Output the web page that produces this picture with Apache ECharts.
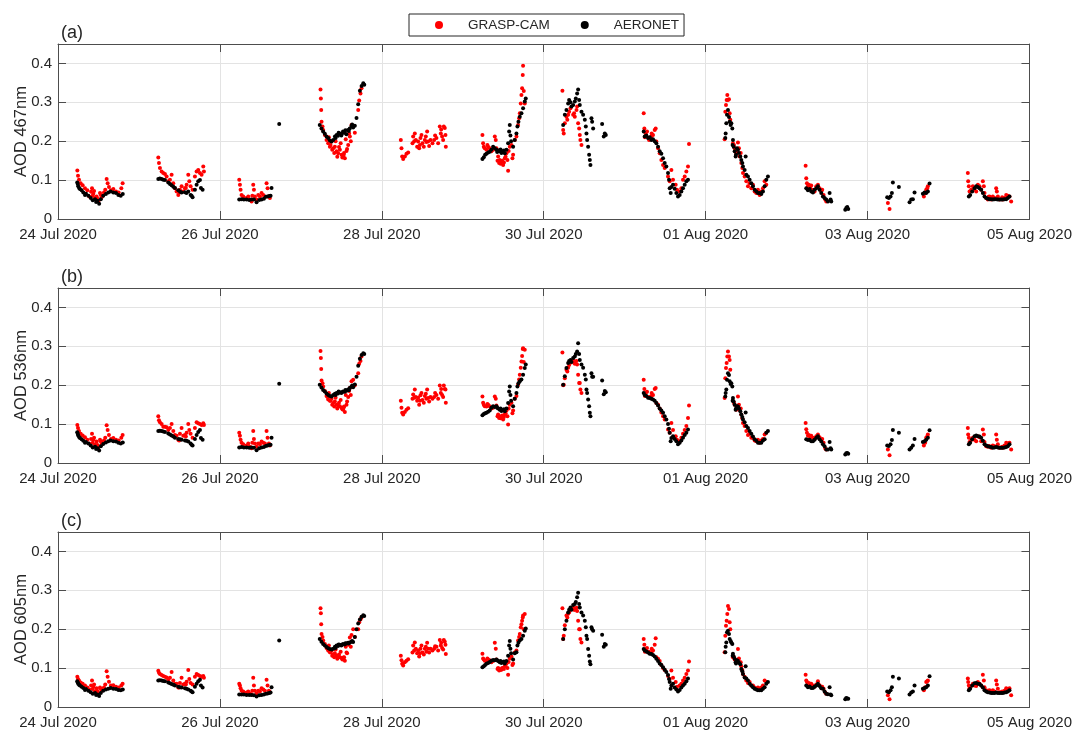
<!DOCTYPE html>
<html>
<head>
<meta charset="utf-8">
<script src="https://cdn.jsdelivr.net/npm/echarts@6.0.0/dist/echarts.min.js"></script>
<style>
  html, body { margin: 0; padding: 0; background: #fff; }
  #chart { width: 1075px; height: 730px; }
</style>
</head>
<body>
<div id="chart"></div>
<script>
// time = hours since 24 Jul 2020 00:00, one line per observing day (last line: extra points)
var aeroHours = [
  5.7, 5.85, 6.0, 6.25, 6.5, 7.0, 7.5, 8.3, 9.0, 9.7, 10.3, 11.0, 11.7, 12.2, 12.7, 13.4, 14.2, 14.9, 15.6, 16.4, 17.2, 17.9, 18.6, 19.2,
  29.73, 30.2, 30.72, 31.2, 31.71, 32.69, 33.2, 33.68, 34.2, 34.67, 35.66, 36.2, 36.64, 37.63, 38.1, 38.62, 39.31, 39.6, 39.9, 40.59, 41.09, 41.58, 42.08, 42.37, 42.87,
  53.73, 54.42, 55.11, 55.9, 56.7, 57.39, 58.08, 58.87, 59.66, 60.35, 61.04, 61.63, 62.13, 62.62, 63.02, 63.31, 65.58,
  77.6, 78.1, 78.6, 79.1, 79.6, 80.1, 80.6, 81.1, 81.6, 82.1, 82.6, 83.0, 83.5, 84.0, 84.5, 85.0, 85.5, 86.0, 86.5, 87.0, 87.5, 88.0, 88.5, 89.0, 89.5, 90.0, 90.5, 90.8,
  125.83, 126.23, 126.62, 127.02, 127.51, 128.0, 128.5, 128.99, 129.49, 129.98, 130.48, 130.97, 131.46, 131.96, 132.45, 132.95, 133.44, 133.74, 133.93, 134.13, 134.33, 134.92, 135.41, 135.91, 136.2, 136.5, 136.9, 137.39, 137.88, 138.38, 138.67,
  149.76, 150.25, 150.74, 151.24, 151.53, 151.93, 152.22, 152.72, 153.21, 153.51, 153.9, 154.2, 154.5, 154.69, 155.19, 155.68, 156.18, 156.47, 156.67, 156.87, 157.16, 157.46, 157.66, 157.85, 158.15, 158.35, 158.65, 161.31, 161.8, 162.1, 162.4,
  173.64, 173.93, 174.43, 174.92, 175.42, 175.91, 176.4, 176.9, 177.39, 177.89, 178.38, 178.87, 179.37, 179.86, 180.35, 180.85, 181.14, 181.34, 181.64, 181.84, 182.33, 182.82, 183.32, 183.81, 184.3, 184.8, 185.29, 185.79, 186.28, 186.77,
  197.83, 197.93, 198.13, 198.33, 198.62, 198.92, 199.12, 199.41, 199.61, 199.91, 200.1, 200.3, 200.6, 200.89, 201.29, 201.58, 201.88, 202.28, 202.57, 202.87, 203.07, 203.56, 203.86, 204.05, 204.55, 205.04, 205.54, 206.03, 206.52, 207.02, 207.51, 208.0, 208.5, 208.99, 209.49, 209.98, 210.47,
  221.83, 222.33, 222.82, 223.31, 223.81, 224.3, 224.8, 225.29, 225.78, 226.28, 226.77, 227.26, 227.76, 228.25, 228.75, 229.04, 229.24, 233.39, 233.69, 233.98, 234.28,
  245.83, 246.33, 246.82, 247.22, 247.51, 249.29, 252.45, 252.95, 253.44, 253.93, 256.4, 256.9, 257.39, 257.88, 258.38,
  270.03, 270.43, 271.02, 271.71, 272.21, 272.7, 273.19, 273.69, 274.18, 274.67, 275.17, 275.66, 276.16, 276.65, 277.14, 277.64, 278.13, 278.63, 279.12, 279.61, 280.11, 280.6, 281.1, 281.59, 282.08,
  82.3, 83.2, 84.2, 85.2, 86.2, 87.2, 130.2, 131.2, 132.2, 8.0, 11.3, 200.0, 201.0
];
var aero467 = [
  .094, .090, .084, .080, .077, .074, .068, .065, .060, .054, .048, .051, .047, .039, .051, .060, .064, .068, .071, .068, .067, .062, .060, .064,
  .103, .104, .103, .101, .100, .094, .090, .087, .083, .080, .074, .070, .068, .069, .067, .071, .062, .060, .056, .075, .088, .097, .100, .080, .075,
  .050, .051, .050, .050, .049, .050, .050, .043, .049, .050, .052, .057, .058, .059, .060, .080, .244,
  .242, .233, .225, .219, .212, .208, .202, .199, .203, .212, .216, .214, .220, .215, .225, .222, .218, .229, .233, .239, .235, .240, .260, .295, .330, .342, .349, .345,
  .154, .159, .165, .168, .171, .173, .178, .186, .182, .178, .176, .174, .170, .174, .169, .178, .195, .225, .242, .215, .200, .186, .203, .220, .238, .250, .263, .272, .285, .302, .310,
  .242, .268, .280, .297, .306, .300, .289, .293, .302, .310, .323, .333, .306, .293, .276, .268, .255, .238, .220, .203, .186, .165, .152, .139, .259, .250, .233, .244, .212, .220, .216,
  .225, .212, .215, .208, .210, .203, .205, .200, .195, .186, .174, .168, .156, .144, .135, .118, .101, .079, .067, .082, .088, .078, .067, .058, .062, .071, .079, .088, .097, .101,
  .208, .220, .246, .268, .280, .262, .250, .242, .246, .233, .203, .186, .174, .161, .182, .178, .170, .161, .152, .144, .135, .126, .161, .114, .109, .101, .092, .084, .075, .071, .067, .067, .064, .071, .084, .101, .109,
  .079, .074, .077, .071, .068, .075, .079, .084, .075, .067, .058, .054, .050, .045, .067, .050, .045, .024, .028, .031, .026,
  .056, .054, .058, .067, .094, .082, .043, .050, .051, .068, .065, .068, .067, .071, .091,
  .058, .062, .071, .079, .084, .082, .079, .075, .067, .058, .054, .052, .051, .051, .050, .051, .051, .050, .050, .050, .050, .051, .051, .054, .058,
  .208, .222, .220, .228, .226, .243, .172, .179, .176, .062, .044, .190, .165
];
var aero536 = [
  .079, .075, .071, .067, .064, .061, .057, .054, .050, .045, .040, .042, .038, .032, .043, .049, .053, .056, .058, .056, .055, .052, .050, .053,
  .082, .083, .082, .081, .080, .076, .073, .071, .068, .065, .062, .061, .060, .058, .057, .055, .050, .047, .045, .062, .072, .080, .085, .064, .060,
  .040, .041, .040, .040, .039, .040, .039, .033, .038, .040, .041, .044, .045, .046, .047, .065, .204,
  .201, .194, .188, .184, .179, .175, .172, .171, .175, .178, .180, .179, .182, .180, .184, .183, .186, .189, .193, .196, .195, .202, .222, .250, .268, .278, .282, .280,
  .123, .126, .128, .129, .132, .135, .142, .146, .144, .146, .140, .137, .134, .136, .133, .140, .154, .184, .197, .175, .160, .146, .165, .180, .197, .205, .210, .215, .227, .244, .253,
  .201, .223, .244, .257, .262, .265, .260, .270, .274, .280, .287, .308, .280, .265, .253, .245, .227, .215, .189, .180, .163, .146, .129, .120, .231, .222, .222, .212, .177, .185, .182,
  .180, .175, .172, .168, .167, .165, .163, .160, .154, .148, .140, .135, .129, .120, .112, .100, .088, .078, .056, .064, .069, .062, .056, .048, .052, .058, .065, .072, .078, .086,
  .171, .180, .189, .214, .231, .226, .210, .203, .205, .197, .167, .158, .150, .137, .146, .145, .140, .133, .125, .118, .112, .105, .130, .095, .090, .082, .075, .068, .061, .057, .052, .052, .052, .058, .061, .078, .082,
  .061, .059, .060, .056, .056, .060, .065, .069, .061, .055, .048, .043, .035, .035, .054, .038, .035, .022, .025, .026, .024,
  .045, .044, .048, .059, .085, .078, .035, .039, .045, .062, .054, .056, .060, .065, .084,
  .048, .052, .061, .069, .071, .069, .068, .065, .057, .048, .045, .043, .042, .041, .039, .040, .041, .040, .039, .039, .039, .040, .041, .043, .048,
  .175, .184, .182, .188, .187, .199, .142, .140, .138, .052, .036, .160, .140
];
var aero605 = [
  .066, .063, .060, .057, .055, .052, .049, .046, .042, .038, .034, .036, .032, .028, .036, .042, .045, .047, .049, .047, .046, .044, .043, .045,
  .068, .069, .068, .067, .066, .063, .061, .059, .057, .055, .052, .051, .050, .048, .047, .045, .042, .040, .038, .052, .060, .066, .070, .055, .050,
  .032, .032, .032, .031, .031, .031, .030, .027, .030, .031, .032, .034, .035, .036, .037, .051, .171,
  .175, .168, .162, .158, .154, .151, .149, .148, .150, .155, .158, .157, .160, .158, .162, .161, .163, .165, .166, .168, .167, .180, .200, .215, .225, .232, .236, .234,
  .102, .105, .108, .111, .113, .116, .119, .121, .120, .122, .118, .115, .113, .116, .112, .118, .132, .158, .170, .150, .138, .122, .138, .141, .158, .165, .171, .175, .183, .196, .202,
  .175, .200, .222, .243, .250, .256, .250, .262, .265, .270, .282, .294, .265, .256, .243, .235, .222, .205, .183, .175, .149, .132, .117, .110, .205, .200, .196, .186, .155, .162, .160,
  .149, .145, .143, .140, .137, .136, .134, .130, .124, .118, .112, .108, .102, .096, .090, .082, .072, .064, .047, .055, .060, .050, .045, .040, .044, .050, .055, .060, .066, .073,
  .141, .155, .166, .192, .196, .188, .175, .170, .166, .162, .137, .130, .124, .115, .120, .118, .114, .110, .098, .092, .085, .076, .105, .073, .068, .060, .055, .051, .047, .045, .043, .043, .043, .047, .051, .060, .064,
  .055, .051, .053, .049, .049, .052, .055, .060, .054, .048, .047, .040, .034, .033, .051, .032, .030, .020, .023, .022, .021,
  .040, .038, .043, .051, .078, .073, .032, .037, .040, .055, .047, .049, .051, .055, .079,
  .043, .047, .055, .061, .062, .060, .059, .055, .050, .043, .040, .038, .037, .036, .036, .036, .037, .036, .036, .036, .036, .037, .038, .040, .043,
  .152, .161, .160, .164, .163, .170, .120, .118, .117, .044, .031, .132, .112
];

var camHours = [
  5.73, 5.93, 6.22, 6.72, 7.31, 8.0, 8.69, 9.29, 9.8, 10.08, 10.47, 10.7, 10.96, 11.2, 11.46, 11.95, 12.45, 12.7, 12.94, 13.2, 13.63, 14.0, 14.42, 14.72, 15.11, 15.7, 16.4, 17.19, 17.98, 18.77, 19.16,
  29.73, 29.93, 30.22, 30.72, 31.21, 31.71, 32.2, 32.69, 33.19, 33.68, 34.18, 34.67, 35.16, 35.66, 36.15, 36.64, 37.14, 37.63, 38.13, 38.62, 38.92, 39.31, 39.9, 40.59, 41.09, 41.58, 42.08, 42.57, 43.07, 43.26,
  53.73, 53.93, 54.13, 54.42, 54.92, 55.9, 56.4, 56.89, 57.39, 57.88, 58.08, 58.37, 58.87, 59.36, 59.86, 60.35, 60.84, 61.34, 61.83, 62.13, 62.52, 62.82,
  77.83, 77.93, 78.03, 78.13, 78.42, 78.62, 79.12, 79.61, 80.1, 80.3, 80.6, 81.09, 81.58, 82.08, 82.3, 82.57, 83.06, 83.56, 83.8, 84.05, 84.55, 84.8, 85.04, 85.3, 85.53, 86.03, 86.3, 86.52, 87.02, 87.51, 88.0, 89.0, 89.29, 89.68, 89.98,
  101.63, 101.83, 102.03, 102.33, 102.82, 103.31, 103.81, 105.09, 105.29, 105.78, 106.08, 106.47, 106.77, 107.07, 107.46, 107.76, 108.05, 108.45, 108.75, 109.04, 109.44, 109.73, 110.03, 110.43, 111.02, 111.51, 112.2, 112.7, 113.19, 113.49, 113.88, 114.18, 114.38, 114.67, 114.87, 114.97,
  125.83, 126.03, 126.23, 126.52, 127.02, 127.51, 128.0, 128.5, 128.99, 129.49, 129.78, 129.98, 130.48, 130.77, 130.97, 131.46, 131.96, 132.45, 132.95, 133.24, 133.44, 133.93, 134.43, 134.72, 134.92, 135.41, 135.91, 136.4, 136.7, 136.9, 137.19, 137.39, 137.59, 137.78, 137.88, 138.08, 138.38,
  149.54, 149.76, 149.93, 150.25, 150.74, 151.24, 151.53, 151.93, 152.72, 153.21, 153.71, 153.9, 154.2, 154.5, 154.69, 154.87, 155.19,
  173.64, 173.83, 174.23, 174.62, 175.22, 175.91, 176.4, 176.9, 177.19, 177.39, 177.89, 178.38, 178.87, 179.37, 179.86, 180.85, 181.34, 181.84, 182.33, 183.12, 183.51, 184.3, 184.8, 185.29, 185.79, 186.28, 186.77, 187.07,
  197.63, 197.83, 198.03, 198.23, 198.42, 198.62, 198.92, 199.12, 199.31, 200.1, 200.6, 201.09, 201.58, 201.88, 202.08, 202.57, 202.87, 203.07, 203.56, 204.05, 204.55, 205.04, 205.54, 206.03, 206.52, 207.02, 207.51, 208.0, 208.5, 208.99, 209.49, 209.98,
  221.64, 221.83, 222.03, 222.33, 222.62, 223.02, 223.31, 223.81, 224.3, 224.8, 225.29, 225.78, 226.28, 226.57, 226.97, 227.46, 227.76,
  246.03, 246.52, 256.7, 257.09, 257.39, 257.69, 257.88,
  269.73, 269.83, 270.03, 270.23, 270.72, 271.22, 271.71, 272.21, 272.7, 273.19, 273.69, 274.18, 274.48, 274.67, 275.17, 275.66, 276.16, 276.65, 277.14, 277.64, 278.13, 278.33, 278.63, 279.12, 279.61, 280.11, 280.6, 281.1, 281.59, 282.08, 282.58,
  80.8, 81.3, 81.9, 82.8, 83.3, 84.3, 84.7, 85.7, 86.8, 79.9, 130.3, 131.2, 131.7, 132.2, 132.7, 133.6, 127.3, 128.3, 174.0, 176.0, 200.4, 201.3, 202.4, 105.6, 107.3, 109.2, 111.8, 113.6, 10.3, 11.7, 35.9, 37.9, 56.2, 57.6, 275.9, 279.9, 151.0, 153.0
];
var cam467 = [
  .125, .111, .101, .092, .087, .079, .074, .058, .070, .079, .065, .072, .054, .050, .058, .045, .067, .062, .056, .060, .068, .075, .103, .092, .082, .074, .077, .071, .068, .079, .092,
  .158, .144, .131, .122, .118, .116, .109, .097, .101, .114, .092, .079, .071, .062, .075, .084, .071, .079, .088, .114, .097, .084, .075, .109, .122, .126, .118, .114, .135, .122,
  .101, .088, .075, .062, .058, .054, .058, .050, .045, .088, .075, .058, .050, .062, .058, .067, .062, .058, .092, .079, .058, .054,
  .333, .310, .280, .250, .238, .229, .216, .203, .195, .210, .186, .199, .182, .186, .200, .174, .169, .178, .195, .165, .161, .170, .156, .205, .175, .190, .220, .212, .242, .238, .222, .280, .305, .323, .336,
  .203, .182, .161, .154, .161, .168, .171, .195, .212, .220, .203, .186, .199, .182, .208, .216, .195, .186, .203, .212, .225, .199, .188, .203, .195, .203, .208, .195, .238, .220, .212, .203, .238, .234, .216, .186,
  .216, .195, .186, .182, .178, .186, .182, .174, .178, .212, .203, .182, .161, .144, .152, .148, .139, .156, .169, .152, .124, .186, .190, .156, .165, .203, .212, .242, .259, .272, .297, .319, .336, .370, .394, .329, .297,
  .330, .229, .220, .246, .263, .268, .276, .285, .268, .263, .280, .289, .246, .233, .216, .203, .190,
  .272, .233, .220, .225, .203, .212, .216, .229, .233, .199, .182, .169, .152, .139, .131, .109, .097, .126, .101, .088, .075, .071, .079, .101, .109, .122, .135, .193,
  .205, .276, .293, .306, .319, .306, .308, .272, .255, .195, .182, .169, .197, .182, .161, .144, .131, .118, .109, .097, .084, .092, .079, .088, .071, .067, .075, .062, .071, .079, .097, .088,
  .137, .105, .092, .084, .088, .079, .086, .075, .071, .084, .088, .079, .071, .075, .062, .050, .045,
  .041, .026, .058, .067, .075, .079, .084,
  .118, .097, .084, .071, .075, .084, .077, .071, .088, .084, .075, .097, .084, .067, .054, .050, .058, .050, .058, .054, .079, .071, .058, .050, .051, .050, .054, .062, .060, .058, .045,
  .190, .178, .170, .160, .185, .158, .165, .180, .200, .205, .150, .142, .150, .145, .160, .175, .190, .178, .210, .220, .190, .175, .170, .200, .190, .198, .215, .230, .060, .052, .068, .080, .052, .060, .057, .056, .255, .272
];
var cam536 = [
  .098, .090, .082, .075, .071, .066, .060, .050, .062, .075, .060, .065, .047, .045, .055, .040, .060, .055, .048, .052, .058, .065, .097, .085, .072, .062, .064, .060, .058, .065, .072,
  .120, .110, .105, .100, .093, .093, .092, .085, .090, .100, .082, .072, .070, .060, .075, .090, .070, .072, .078, .100, .085, .075, .065, .090, .105, .102, .100, .098, .102, .098,
  .078, .070, .060, .052, .048, .045, .050, .042, .038, .082, .062, .050, .042, .050, .048, .055, .052, .050, .082, .065, .050, .045,
  .288, .270, .242, .212, .205, .197, .185, .172, .163, .180, .160, .165, .154, .158, .168, .150, .148, .146, .162, .142, .137, .145, .131, .175, .150, .170, .185, .193, .210, .214, .200, .231, .255, .262, .274,
  .160, .142, .129, .125, .131, .137, .141, .165, .176, .189, .170, .160, .168, .150, .174, .180, .162, .155, .172, .178, .189, .167, .158, .170, .165, .170, .175, .165, .199, .180, .175, .170, .199, .190, .189, .155,
  .171, .155, .150, .146, .145, .150, .146, .140, .142, .171, .165, .148, .125, .116, .120, .118, .112, .125, .135, .120, .099, .150, .155, .128, .135, .165, .172, .201, .215, .227, .245, .261, .275, .293, .295, .260, .291,
  .284, .200, .201, .218, .240, .245, .252, .258, .265, .255, .262, .253, .227, .206, .206, .189, .180,
  .214, .190, .180, .183, .170, .172, .175, .190, .193, .154, .150, .140, .130, .120, .112, .086, .078, .103, .085, .069, .060, .056, .065, .075, .085, .095, .116, .148,
  .167, .218, .244, .257, .274, .287, .274, .265, .240, .160, .150, .137, .171, .150, .137, .125, .115, .103, .095, .082, .072, .075, .065, .065, .058, .056, .060, .052, .058, .062, .073, .078,
  .103, .087, .078, .070, .072, .066, .070, .065, .062, .069, .073, .066, .060, .062, .052, .037, .035,
  .035, .020, .045, .052, .065, .068, .073,
  .090, .073, .065, .054, .059, .065, .060, .056, .069, .066, .056, .086, .073, .054, .043, .042, .043, .039, .045, .043, .073, .060, .048, .039, .040, .039, .045, .052, .050, .052, .035,
  .160, .150, .145, .140, .155, .138, .143, .158, .175, .170, .120, .115, .122, .118, .128, .140, .152, .143, .172, .180, .155, .145, .140, .168, .160, .165, .180, .190, .052, .046, .058, .068, .044, .052, .044, .042, .235, .258
];
var cam605 = [
  .078, .072, .068, .063, .060, .055, .050, .045, .055, .068, .052, .058, .040, .040, .048, .036, .050, .047, .042, .045, .050, .058, .092, .078, .065, .055, .056, .052, .050, .055, .060,
  .093, .088, .085, .082, .080, .078, .076, .070, .075, .090, .068, .060, .060, .050, .062, .075, .058, .060, .065, .095, .072, .062, .058, .078, .085, .082, .080, .078, .080, .075,
  .060, .055, .048, .042, .040, .037, .040, .035, .032, .075, .055, .042, .035, .042, .040, .048, .045, .042, .070, .055, .042, .038,
  .254, .241, .213, .188, .180, .171, .162, .152, .145, .158, .141, .145, .135, .138, .148, .132, .130, .128, .142, .126, .124, .128, .119, .155, .140, .160, .165, .179, .185, .200, .180, .200, .218, .225, .230,
  .132, .120, .111, .107, .115, .119, .123, .140, .158, .166, .150, .138, .145, .130, .150, .158, .140, .135, .150, .155, .165, .150, .140, .150, .145, .150, .155, .145, .172, .158, .152, .148, .172, .168, .160, .136,
  .137, .125, .122, .119, .118, .122, .120, .115, .118, .165, .150, .122, .100, .094, .098, .096, .100, .105, .112, .100, .083, .125, .130, .108, .112, .140, .145, .171, .180, .188, .205, .213, .222, .230, .235, .200, .239,
  .254, .175, .183, .210, .235, .240, .243, .250, .256, .250, .255, .247, .222, .200, .200, .175, .166,
  .175, .160, .149, .152, .142, .141, .145, .160, .177, .128, .124, .118, .108, .100, .095, .080, .072, .094, .075, .064, .052, .055, .060, .068, .075, .085, .094, .117,
  .141, .183, .209, .222, .239, .260, .252, .218, .200, .128, .122, .119, .149, .125, .115, .105, .095, .085, .078, .068, .062, .064, .055, .055, .050, .047, .050, .047, .050, .055, .068, .064,
  .083, .068, .064, .060, .062, .056, .060, .055, .052, .058, .066, .056, .050, .052, .047, .037, .034,
  .030, .020, .043, .051, .064, .066, .068,
  .073, .064, .055, .048, .054, .060, .055, .054, .064, .060, .055, .083, .068, .051, .043, .040, .043, .038, .043, .040, .068, .058, .047, .038, .038, .038, .042, .048, .046, .048, .030,
  .140, .132, .128, .124, .135, .122, .127, .138, .155, .150, .098, .096, .100, .098, .108, .116, .125, .118, .142, .150, .128, .120, .115, .145, .138, .142, .156, .165, .046, .041, .050, .058, .036, .042, .042, .040, .230, .250
];

var dayLabels = ['24 Jul 2020', '26 Jul 2020', '28 Jul 2020', '30 Jul 2020', '01 Aug 2020', '03 Aug 2020', '05 Aug 2020'];
var panelTags = ['(a)', '(b)', '(c)'];
var axisNames = ['AOD 467nm', 'AOD 536nm', 'AOD 605nm'];
var camSets = [cam467, cam536, cam605];
var aeroSets = [aero467, aero536, aero605];

var gridTops = [44, 288, 532];
var ink = '#262626';
var boxColor = '#4d4d4d';
var gridColor = '#e3e3e3';

function pairs(hours, vals) {
  return hours.map(function (h, i) { return [h, vals[i]]; });
}

var chart = echarts.init(document.getElementById('chart'));
var option = {
  animation: false,
  textStyle: { fontFamily: 'Liberation Sans, Arial, sans-serif' },
  title: [],
  legend: {
    data: ['GRASP-CAM', 'AERONET'],
    left: 409,
    top: 14,
    icon: 'circle',
    itemWidth: 8,
    itemHeight: 8,
    itemGap: 31,
    padding: [4, 5, 4, 26],
    borderColor: ink,
    borderWidth: 1,
    selectedMode: false,
    textStyle: { fontSize: 13.5, color: ink, padding: [0, 0, 0, 20], lineHeight: 14 }
  },
  grid: [],
  xAxis: [],
  yAxis: [],
  series: []
};

for (var i = 0; i < 3; i++) {
  option.title.push({
    text: panelTags[i], left: 56, top: gridTops[i] - 25,
    textStyle: { fontSize: 18, fontWeight: 'normal', color: ink }
  });
  option.grid.push({ left: 58, right: 45, top: gridTops[i], height: 175 });

  // bottom and top x axes (box)
  option.xAxis.push({
    gridIndex: i, type: 'value', min: 0, max: 288, interval: 48, position: 'bottom',
    axisLine: { onZero: false, lineStyle: { color: boxColor } },
    axisTick: { inside: true, length: 8, lineStyle: { color: boxColor } },
    axisLabel: {
      color: ink, fontSize: 15, margin: 8,
      formatter: function (v) { return dayLabels[Math.round(v / 48)]; }
    },
    splitLine: { show: true, lineStyle: { color: gridColor } }
  });
  option.xAxis.push({
    gridIndex: i, type: 'value', min: 0, max: 288, interval: 48, position: 'top',
    axisLine: { onZero: false, lineStyle: { color: boxColor } },
    axisTick: { inside: true, length: 8, lineStyle: { color: boxColor } },
    axisLabel: { show: false },
    splitLine: { show: false }
  });

  // left and right y axes
  option.yAxis.push({
    gridIndex: i, type: 'value', min: 0, max: 0.45, interval: 0.1, position: 'left',
    name: axisNames[i], nameLocation: 'middle', nameGap: 28, nameMoveOverlap: false,
    nameTextStyle: { fontSize: 16.5, color: ink },
    axisLine: { onZero: false, lineStyle: { color: boxColor } },
    axisTick: { inside: true, length: 8, lineStyle: { color: boxColor } },
    axisLabel: { color: ink, fontSize: 15, margin: 6, showMaxLabel: false },
    splitLine: { show: true, lineStyle: { color: gridColor } }
  });
  option.yAxis.push({
    gridIndex: i, type: 'value', min: 0, max: 0.45, interval: 0.1, position: 'right',
    axisLine: { onZero: false, lineStyle: { color: boxColor } },
    axisTick: { inside: true, length: 8, lineStyle: { color: boxColor } },
    axisLabel: { show: false },
    splitLine: { show: false }
  });

  option.series.push({
    name: 'GRASP-CAM', type: 'scatter', xAxisIndex: 2 * i, yAxisIndex: 2 * i,
    symbolSize: 4, itemStyle: { color: '#ff0000', opacity: 1 },
    data: pairs(camHours, camSets[i])
  });
  option.series.push({
    name: 'AERONET', type: 'scatter', xAxisIndex: 2 * i, yAxisIndex: 2 * i,
    symbolSize: 4, itemStyle: { color: '#000000', opacity: 1 },
    data: pairs(aeroHours, aeroSets[i])
  });
}

chart.setOption(option);
</script>
</body>
</html>
